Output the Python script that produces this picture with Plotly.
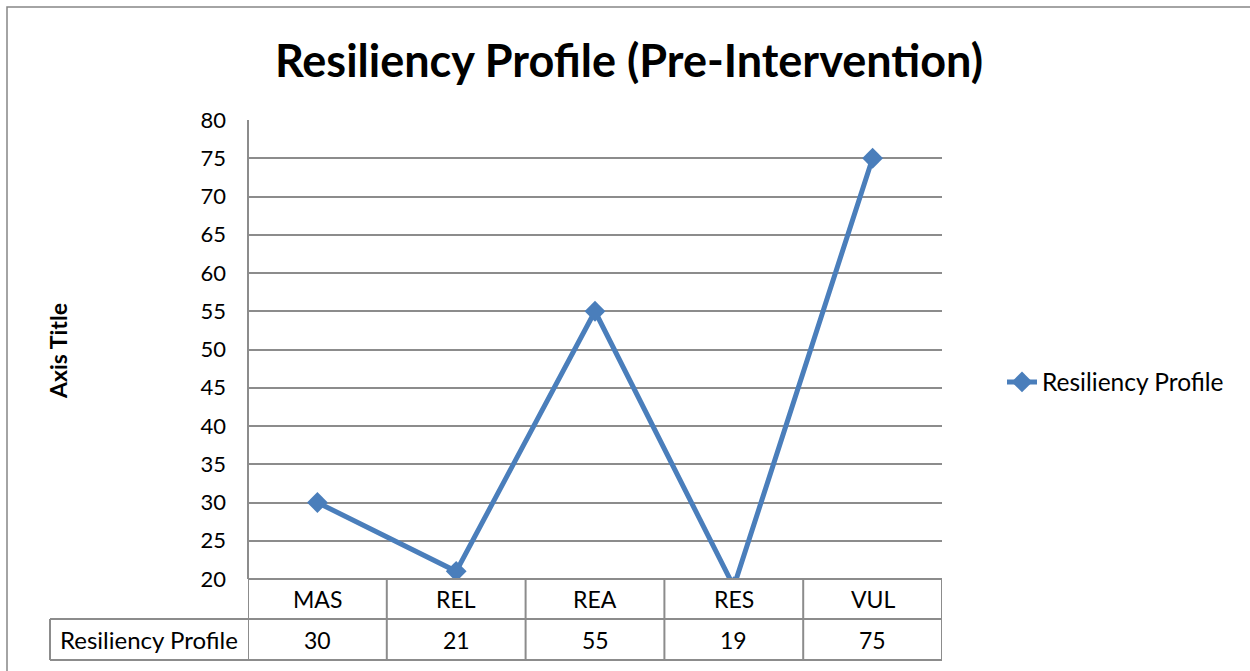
import plotly.graph_objects as go

categories = ["MAS", "REL", "REA", "RES", "VUL"]
values = [30, 21, 55, 19, 75]
series_name = "Resiliency Profile"
title_text = "Resiliency Profile (Pre-Intervention)"
y_title = "Axis Title"
y_ticks = list(range(20, 81, 5))

W, H = 1250, 671
px_x = lambda p: p / W
px_y = lambda p: 1 - p / H

PLOT_L, PLOT_R, PLOT_T, PLOT_B = 248, 942, 120, 579
ROW1_B, ROW2_B = 619, 660
LABEL_L = 50

FONT = "Lato, Calibri, Carlito, sans-serif"
GRID = "#8c8c8c"
BLUE = "#4a7ebb"

fig = go.Figure()
fig.add_trace(go.Scatter(
    x=categories, y=values, name=series_name, mode="lines+markers",
    line=dict(color=BLUE, width=5),
    marker=dict(symbol="diamond", size=16, color=BLUE),
    cliponaxis=True,
))

shapes = []
# outer chart border
shapes.append(dict(type="rect", xref="paper", yref="paper",
                   x0=px_x(7), x1=1.2, y0=-0.2, y1=px_y(7),
                   line=dict(color="#868686", width=1.5), fillcolor="rgba(0,0,0,0)"))
# table horizontal lines
for yy, xl in [(PLOT_B, PLOT_L), (ROW1_B, LABEL_L), (ROW2_B, LABEL_L)]:
    shapes.append(dict(type="line", xref="paper", yref="paper",
                       x0=px_x(xl), x1=px_x(PLOT_R), y0=px_y(yy), y1=px_y(yy),
                       line=dict(color=GRID, width=2)))
# table vertical lines
n = len(categories)
for i in range(n + 1):
    shapes.append(dict(type="line", xref="x", yref="paper",
                       x0=i - 0.5, x1=i - 0.5, y0=px_y(ROW2_B), y1=px_y(PLOT_B),
                       line=dict(color=GRID, width=2)))
shapes.append(dict(type="line", xref="paper", yref="paper",
                   x0=px_x(LABEL_L), x1=px_x(LABEL_L), y0=px_y(ROW2_B), y1=px_y(ROW1_B),
                   line=dict(color=GRID, width=2)))
# left axis line within plot
shapes.append(dict(type="line", xref="paper", yref="paper",
                   x0=px_x(PLOT_L), x1=px_x(PLOT_L), y0=px_y(PLOT_B), y1=px_y(PLOT_T),
                   line=dict(color=GRID, width=2)))

annotations = []
for c, v in zip(categories, values):
    annotations.append(dict(x=c, xref="x", y=px_y((PLOT_B + ROW1_B) / 2), yref="paper",
                            xanchor="center", yanchor="middle",
                            text=c, showarrow=False, font=dict(family=FONT, size=23, color="#000")))
    annotations.append(dict(x=c, xref="x", y=px_y((ROW1_B + ROW2_B) / 2), yref="paper",
                            xanchor="center", yanchor="middle",
                            text=str(v), showarrow=False, font=dict(family=FONT, size=23, color="#000")))
annotations.append(dict(x=px_x((LABEL_L + PLOT_L) / 2), xref="paper",
                        y=px_y((ROW1_B + ROW2_B) / 2), yref="paper",
                        xanchor="center", yanchor="middle",
                        text=series_name, showarrow=False,
                        font=dict(family=FONT, size=24, color="#000")))
annotations.append(dict(x=px_x(58), xref="paper", y=px_y(351), yref="paper",
                        xanchor="center", yanchor="middle",
                        text="<b>" + y_title + "</b>", textangle=-90, showarrow=False,
                        font=dict(family=FONT, size=23, color="#000")))

fig.update_layout(
    template="none",
    width=W, height=H, autosize=False,
    margin=dict(l=0, r=0, t=0, b=0, pad=0),
    paper_bgcolor="white", plot_bgcolor="white",
    title=dict(text="<b>" + title_text + "</b>", x=px_x(629), xanchor="center",
               xref="paper", yref="paper",
               y=px_y(61), yanchor="middle",
               font=dict(family=FONT, size=45, color="#000")),
    xaxis=dict(domain=[px_x(PLOT_L), px_x(PLOT_R)], range=[-0.5, n - 0.5],
               showticklabels=False, showgrid=False, zeroline=False, showline=False,
               ticks="", automargin=False),
    yaxis=dict(domain=[px_y(PLOT_B), px_y(PLOT_T)], range=[20, 80],
               tickvals=y_ticks, showgrid=True, gridcolor=GRID, gridwidth=1.5,
               zeroline=False, showline=False, ticks="", ticklabelstandoff=21,
               automargin=False,
               tickfont=dict(family=FONT, size=22, color="#000")),
    showlegend=True,
    legend=dict(x=px_x(1002), xanchor="left", y=px_y(382), yanchor="middle",
                font=dict(family=FONT, size=24.5, color="#000"),
                bgcolor="rgba(0,0,0,0)", borderwidth=0),
    shapes=shapes, annotations=annotations,
)

fig.write_html("out.html", config={"displayModeBar": False},
               post_script="document.body.style.margin='0px';document.body.style.overflow='hidden';")
